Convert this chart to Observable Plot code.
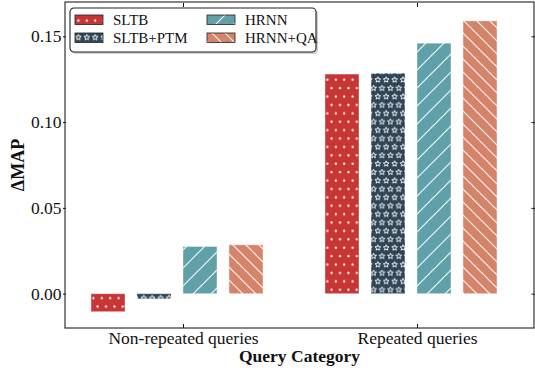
<!DOCTYPE html>
<html><head><meta charset="utf-8">
<script src="https://cdn.jsdelivr.net/npm/d3@7"></script>
<script src="https://cdn.jsdelivr.net/npm/@observablehq/plot@0.6"></script>
<style>
html,body{margin:0;padding:0;background:#fff;}
#chart{width:535px;height:371px;position:relative;}
</style></head><body><div id="chart"></div>
<script>
const groups = ["Non-repeated queries", "Repeated queries"];
const series = ["SLTB", "SLTB+PTM", "HRNN", "HRNN+QA"];
const nonRepeated = [-0.0105, -0.003, 0.0275, 0.0285];
const repeated = [0.128, 0.1285, 0.146, 0.159];
const colors = ["#c73634", "#2f4556", "#60a1a9", "#d58369"];
const patternIds = ["p-dots", "p-stars", "p-fwd", "p-back"];
const yTicks = [0, 0.05, 0.10, 0.15];
const yLabel = "ΔMAP";
const xLabel = "Query Category";

const data = [];
groups.forEach((g, gi) => {
  const vals = gi === 0 ? nonRepeated : repeated;
  series.forEach((s, si) => data.push({group: g, series: s, value: vals[si]}));
});

const W = 535, H = 371, mL = 65, mR = 1, mT = 2, mB = 43;
const font = "'Liberation Serif', 'Times New Roman', serif";

const plot = Plot.plot({
  width: W, height: H, marginLeft: mL, marginRight: mR, marginTop: mT, marginBottom: mB,
  style: {fontFamily: font, fontSize: "17.5px", color: "#111", background: "transparent", overflow: "visible"},
  fx: {domain: groups, paddingInner: 0, paddingOuter: 0, label: null},
  x: {domain: series, paddingInner: 0.255, paddingOuter: 0.622, align: 0.41, axis: null},
  y: {domain: [-0.02, 0.17], label: null},
  marks: [
    ...series.map((s, i) => Plot.barY(data.filter(d => d.series === s), {
      fx: "group", x: "series", y: "value",
      fill: `url(#${patternIds[i]})`, stroke: "#ffffff", strokeOpacity: 0.4, strokeWidth: 1
    })),
    Plot.axisY({anchor: "left", ticks: yTicks, tickFormat: ".2f", tickSize: 3, tickPadding: 2, label: null}),
    Plot.axisY({anchor: "right", ticks: yTicks, tickSize: -3.5, tickFormat: () => "", label: null}),
    Plot.axisFx({anchor: "bottom", tickSize: -4, tickPadding: 7, label: null}),
    Plot.axisFx({anchor: "top", tickSize: -4, tickFormat: () => "", label: null})
  ]
});

const svg = d3.select(plot);
const defs = svg.insert("defs", ":first-child");

// dots (staggered)
{
  const p = defs.append("pattern").attr("id", "p-dots").attr("patternUnits", "userSpaceOnUse")
    .attr("width", 8.4).attr("height", 16.8);
  p.append("rect").attr("width", 8.4).attr("height", 16.8).attr("fill", colors[0]);
  [[4.2, 4.2], [0, 12.6], [8.4, 12.6]].forEach(([cx, cy]) =>
    p.append("circle").attr("cx", cx).attr("cy", cy).attr("r", 1.15).attr("fill", "#fff"));
}
// stars (staggered)
{
  const starPath = (cx, cy, R, r) => {
    let s = "";
    for (let k = 0; k < 10; k++) {
      const a = -Math.PI / 2 + k * Math.PI / 5;
      const rr = k % 2 === 0 ? R : r;
      s += (k === 0 ? "M" : "L") + (cx + rr * Math.cos(a)).toFixed(2) + "," + (cy + rr * Math.sin(a)).toFixed(2);
    }
    return s + "Z";
  };
  const p = defs.append("pattern").attr("id", "p-stars").attr("patternUnits", "userSpaceOnUse")
    .attr("width", 8.4).attr("height", 16.8);
  p.append("rect").attr("width", 8.4).attr("height", 16.8).attr("fill", colors[1]);
  [[4.2, 4.2], [0, 12.6], [8.4, 12.6]].forEach(([cx, cy]) =>
    p.append("path").attr("d", starPath(cx, cy, 3.0, 1.3)).attr("fill", "none")
      .attr("stroke", "#fff").attr("stroke-width", 0.9).attr("stroke-linejoin", "round"));
}
// forward diagonal
{
  const s = 18;
  const p = defs.append("pattern").attr("id", "p-fwd").attr("patternUnits", "userSpaceOnUse")
    .attr("width", s).attr("height", s);
  p.append("rect").attr("width", s).attr("height", s).attr("fill", colors[2]);
  p.append("path").attr("d", `M0,${s}L${s},0M-2,2L2,-2M${s - 2},${s + 2}L${s + 2},${s - 2}`)
    .attr("stroke", "#fff").attr("stroke-width", 1.2).attr("stroke-opacity", 0.9);
}
// back diagonal
{
  const s = 13;
  const p = defs.append("pattern").attr("id", "p-back").attr("patternUnits", "userSpaceOnUse")
    .attr("width", s).attr("height", s);
  p.append("rect").attr("width", s).attr("height", s).attr("fill", colors[3]);
  p.append("path").attr("d", `M0,0L${s},${s}M-2,${s - 2}L2,${s + 2}M${s - 2},-2L${s + 2},2`)
    .attr("stroke", "#fff").attr("stroke-width", 1.2).attr("stroke-opacity", 0.9);
}

// frame
svg.append("rect").attr("x", mL).attr("y", mT).attr("width", W - mL - mR).attr("height", H - mT - mB)
  .attr("fill", "none").attr("stroke", "#222").attr("stroke-width", 1.1);

// axis labels
svg.append("text").attr("transform", `translate(20,${mT + (H - mT - mB) / 2}) rotate(-90)`)
  .attr("text-anchor", "middle").attr("dominant-baseline", "middle")
  .attr("font-weight", "bold").attr("font-size", "18px").attr("fill", "#111").text(yLabel);
svg.append("text").attr("x", mL + (W - mL - mR) / 2).attr("y", 362)
  .attr("text-anchor", "middle").attr("font-weight", "bold").attr("font-size", "17.5px")
  .attr("fill", "#111").text(xLabel);

// legend
{
  const lg = svg.append("g").attr("transform", "translate(70,8)");
  lg.append("rect").attr("x", 2).attr("y", 2).attr("width", 246).attr("height", 44).attr("rx", 4)
    .attr("fill", "#000").attr("opacity", 0.18);
  lg.append("rect").attr("x", 0).attr("y", 0).attr("width", 246).attr("height", 44).attr("rx", 4)
    .attr("fill", "#fff").attr("stroke", "#222").attr("stroke-width", 1.1);
  series.forEach((s, i) => {
    const col = Math.floor(i / 2), row = i % 2;
    const gx = 5 + col * 132, gy = 7 + row * 18;
    lg.append("rect").attr("x", gx).attr("y", gy).attr("width", 28).attr("height", 9.5)
      .attr("fill", `url(#${patternIds[i]})`).attr("stroke", "#222").attr("stroke-width", 0.8);
    lg.append("text").attr("x", gx + 38).attr("y", gy + 10).attr("font-size", "15px")
      .attr("text-anchor", "start").attr("fill", "#111").text(s);
  });
}

document.getElementById("chart").appendChild(plot);
</script>
</body></html>
